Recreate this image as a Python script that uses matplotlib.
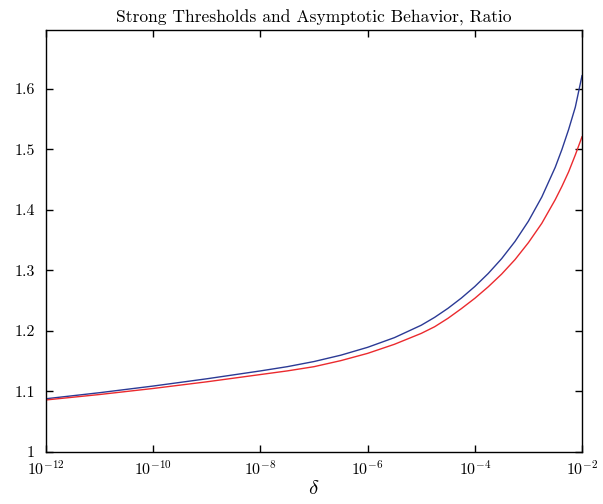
import numpy as np
import matplotlib
matplotlib.use("Agg")
import matplotlib.pyplot as plt

# values (log10 of delta, ratio)
log_delta = [-12, -11, -10, -9, -8, -7.5, -7, -6.5, -6, -5.5, -5, -4.75, -4.5, -4.25,
             -4, -3.75, -3.5, -3.25, -3, -2.75, -2.5, -2.375, -2.25, -2.125, -2]
ratio_blue = [1.088, 1.098, 1.109, 1.121, 1.134, 1.141, 1.1495, 1.160, 1.173, 1.189,
              1.2095, 1.2225, 1.2375, 1.2545, 1.2735, 1.295, 1.3195, 1.348, 1.3815,
              1.4215, 1.4705, 1.500, 1.533, 1.570, 1.622]
ratio_red = [1.086, 1.095, 1.105, 1.116, 1.128, 1.134, 1.141, 1.151, 1.163, 1.178,
             1.196, 1.207, 1.221, 1.237, 1.254, 1.273, 1.294, 1.318, 1.346,
             1.378, 1.417, 1.439, 1.463, 1.491, 1.521]

x_ticks = [1e-12, 1e-10, 1e-8, 1e-6, 1e-4, 1e-2]
x_tick_labels = [r"$10^{-12}$", r"$10^{-10}$", r"$10^{-8}$", r"$10^{-6}$", r"$10^{-4}$", r"$10^{-2}$"]
y_ticks = [1.0, 1.1, 1.2, 1.3, 1.4, 1.5, 1.6]
y_tick_labels = ["1", "1.1", "1.2", "1.3", "1.4", "1.5", "1.6"]

plt.rcParams["font.family"] = "serif"
plt.rcParams["font.serif"] = ["cmr10", "DejaVu Serif"]
plt.rcParams["mathtext.fontset"] = "cm"
plt.rcParams["axes.formatter.use_mathtext"] = True

fig = plt.figure(figsize=(6.03, 5.04), dpi=100)
ax = fig.add_axes([0.0763, 0.1032, 0.8889, 0.8373])

delta = np.power(10.0, log_delta)
ax.plot(delta, ratio_blue, color="#2b3a95", linewidth=1.0)
ax.plot(delta, ratio_red, color="#eb2a2e", linewidth=1.0)

ax.set_xscale("log")
ax.set_xlim(1e-12, 1e-2)
ax.set_ylim(1.0, 1.6975)
ax.set_xticks(x_ticks)
ax.set_xticklabels(x_tick_labels)
ax.minorticks_off()
ax.set_yticks(y_ticks)
ax.set_yticklabels(y_tick_labels)

ax.tick_params(direction="in", length=5, width=1, top=True, right=True,
               labelsize=11.5)
ax.tick_params(axis="x", pad=5)
ax.tick_params(axis="y", pad=8)
for s in ax.spines.values():
    s.set_linewidth(1.0)

ax.set_title("Strong Thresholds and Asymptotic Behavior, Ratio", fontsize=12.6, pad=5)
ax.set_xlabel(r"$\delta$", fontsize=15, labelpad=2)

fig.savefig("out.png", dpi=100)
